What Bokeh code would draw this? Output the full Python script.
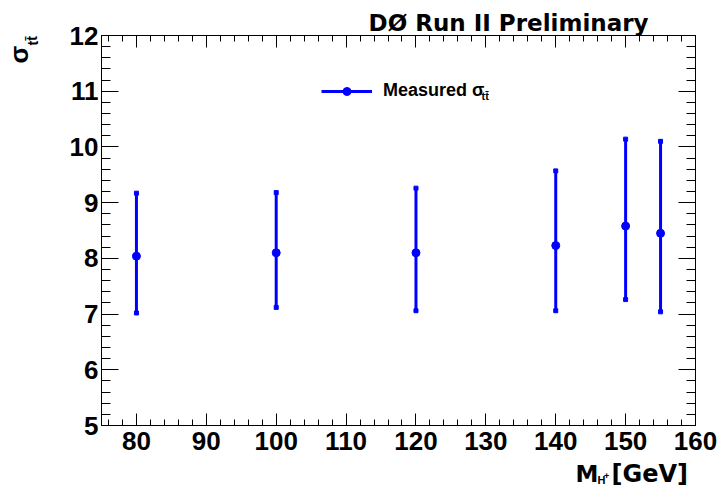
from bokeh.plotting import figure
from bokeh.layouts import column
from bokeh.models import (Range1d, LinearAxis, SingleIntervalTicker, Label,
                          Legend, LegendItem, CustomJSTickFormatter)
from bokeh.embed import file_html
from bokeh.resources import INLINE

# ---- data ----
mass = [80, 100, 120, 140, 150, 155]            # M_H+ [GeV]
sigma = [8.04, 8.10, 8.10, 8.23, 8.58, 8.45]    # measured sigma_ttbar
sigma_low = [7.02, 7.12, 7.06, 7.06, 7.26, 7.04]
sigma_high = [9.17, 9.18, 9.26, 9.57, 10.14, 10.10]

x_start, x_end = 75, 160
y_start, y_end = 5, 12

FONT = "Liberation Sans"
TFONT = "DejaVu Sans"
BLUE = "#0000ff"
W, H = 719, 487

p = figure(width=W, height=H,
           x_range=Range1d(x_start, x_end), y_range=Range1d(y_start, y_end),
           x_axis_type=None, y_axis_type=None,
           output_backend="svg", toolbar_location=None,
           min_border_left=101, min_border_right=24,
           min_border_top=35, min_border_bottom=62,
           background_fill_color="white", border_fill_color="white",
           outline_line_color="black", outline_line_width=1)


def make_axis(interval, tick_major, tick_minor, labels):
    ax = LinearAxis(ticker=SingleIntervalTicker(interval=interval, num_minor_ticks=5),
                    major_tick_in=tick_major, major_tick_out=0,
                    minor_tick_in=tick_minor, minor_tick_out=0,
                    axis_line_color="black", major_tick_line_color="black",
                    minor_tick_line_color="black",
                    major_tick_line_width=1, minor_tick_line_width=1)
    if labels:
        ax.major_label_text_font = FONT
        ax.major_label_text_font_style = "bold"
        ax.major_label_text_font_size = "26px"
        ax.major_label_text_color = "black"
    else:
        ax.formatter = CustomJSTickFormatter(code="return ''")
        ax.major_label_text_font_size = "10px"
        ax.major_label_standoff = 0
    return ax


xb = make_axis(10, 12, 6, True)
xb.major_label_standoff = 6
yl = make_axis(1, 17, 9, True)
yl.major_label_standoff = 3
xt = make_axis(10, 12, 6, False)
yr = make_axis(1, 17, 9, False)
p.add_layout(xb, "below")
p.add_layout(yl, "left")
p.add_layout(xt, "above")
p.add_layout(yr, "right")

# ---- data marks ----
seg = p.segment(x0=mass, y0=sigma_low, x1=mass, y1=sigma_high,
                line_color=BLUE, line_width=3)
p.scatter(x=mass, y=sigma_low, marker="square", size=4, color=BLUE)
p.scatter(x=mass, y=sigma_high, marker="square", size=4, color=BLUE)
pts = p.scatter(x=mass, y=sigma, marker="circle", size=8, color=BLUE)

legend = Legend(items=[LegendItem(label="Measured σ", renderers=[seg, pts])],
                location=(220, 324), orientation="vertical",
                glyph_width=51, glyph_height=20, label_height=20,
                label_standoff=11, padding=0, margin=0, spacing=0,
                border_line_color=None, background_fill_alpha=0,
                label_text_font=FONT, label_text_font_style="bold",
                label_text_font_size="18px", label_text_color="black")
p.add_layout(legend, "center")
p.margin = (0, 0, -H, 0)

# ---- text layer (pixel coordinates of the page, y downward) ----
txt = figure(width=W, height=H, x_range=Range1d(0, W), y_range=Range1d(H, 0),
             x_axis_type=None, y_axis_type=None, min_border=0,
             output_backend="svg", toolbar_location=None,
             outline_line_color=None, background_fill_alpha=0,
             border_fill_alpha=0)

for fig in (p, txt):
    try:
        fig.frame_align = False
    except Exception:
        pass


def lab(x, y, text, size, font=FONT, **kw):
    txt.add_layout(Label(x=x, y=y, text=text, text_font=font,
                         text_font_style="bold", text_font_size=size,
                         text_color="black", text_baseline="alphabetic", **kw))


# legend subscript
lab(481, 95, "tt\u0304", "11px")

# title
lab(648, 22, "DØ Run II Preliminary", "23px", font=TFONT, text_align="right")

# y axis title: sigma_ttbar (rotated)
lab(18, 63, "σ", "26px", angle=1.5708, text_align="left")
lab(32, 45, "tt\u0304", "14px", angle=1.5708, text_align="left")

# x axis title: M_{H+} [GeV]
lab(575, 473, "M", "23px", font=TFONT)
lab(597, 479, "H", "11px")
lab(603.5, 475, "+", "9px")
lab(611, 473, "[GeV]", "24px", font=TFONT)

layout = column(p, txt)
open("out.html", "w").write(file_html(layout, INLINE))
